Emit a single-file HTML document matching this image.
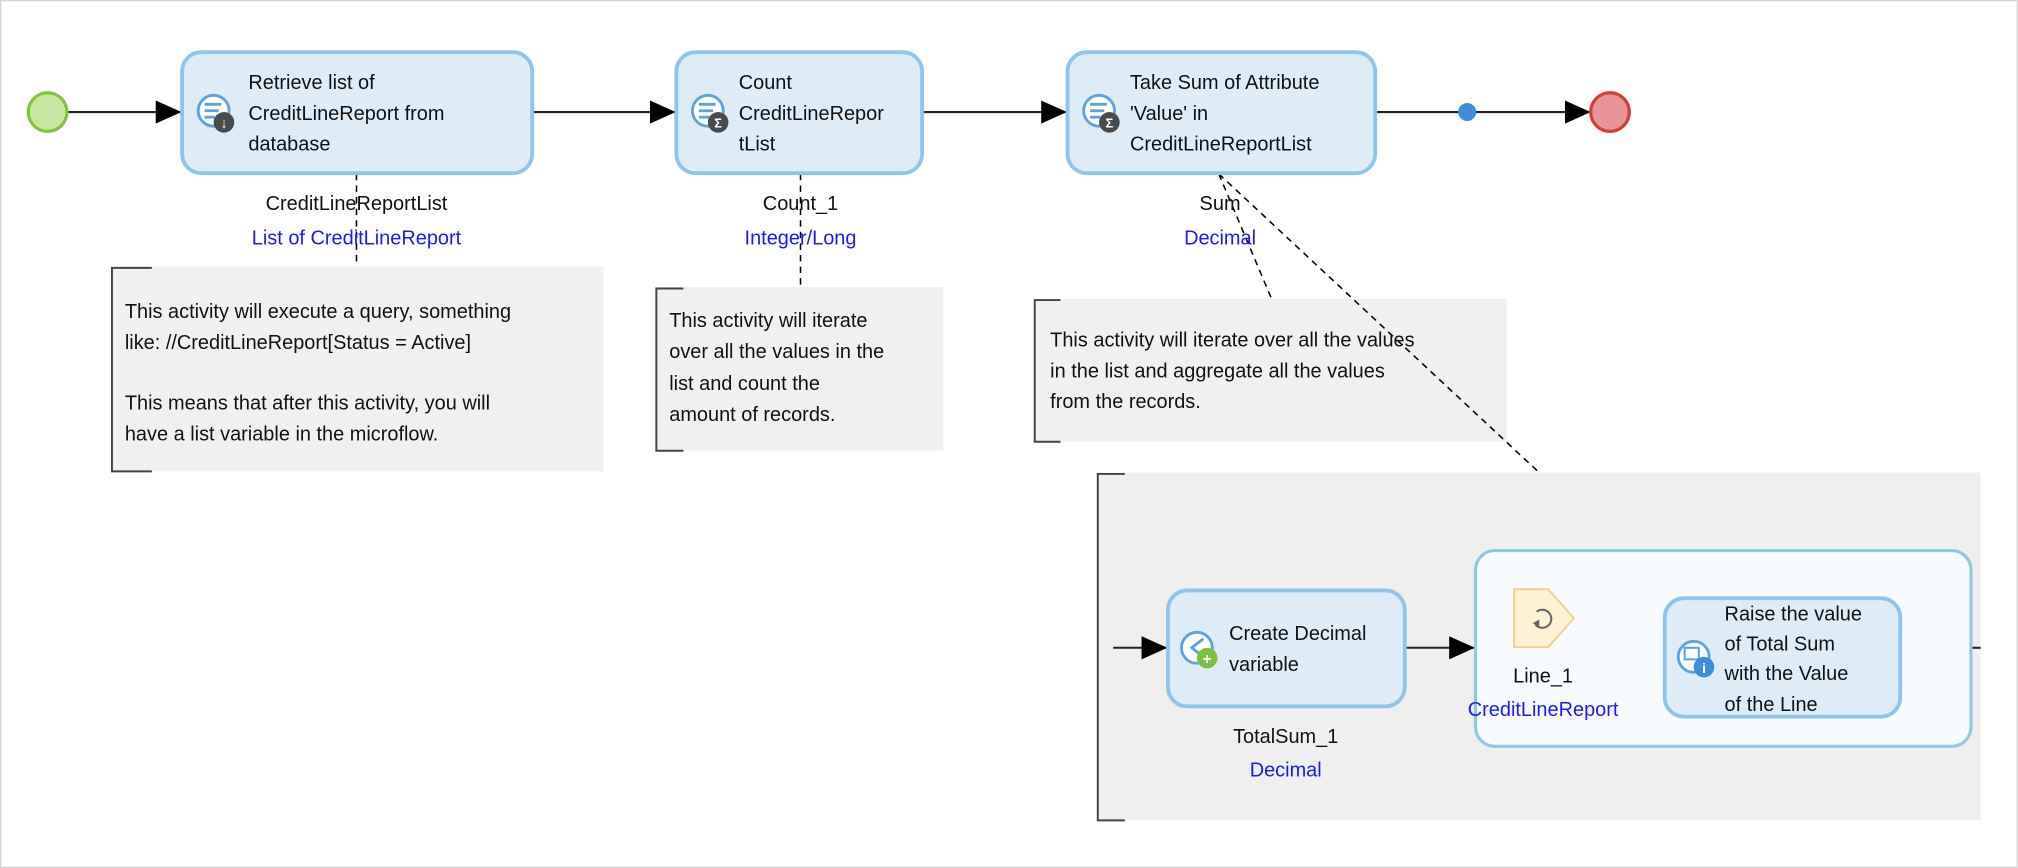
<!DOCTYPE html>
<html><head><meta charset="utf-8"><style>
html,body{margin:0;padding:0;background:#fff;}
svg{display:block;}
text{font-family:"Liberation Sans",sans-serif;font-size:15.5px;fill:#111;}
.b{fill:#1a1aff;}
</style></head><body>
<svg width="2018" height="868" viewBox="0 0 1568 674" preserveAspectRatio="none" xmlns="http://www.w3.org/2000/svg">
<defs>
<marker id="ar" markerWidth="20" markerHeight="20" refX="20" refY="10" orient="auto" markerUnits="userSpaceOnUse" viewBox="0 0 20 20">
<path d="M0,1 L20,10 L0,19 z" fill="#000"/></marker>
<g id="ic">
<circle cx="0" cy="0" r="12" fill="#fff" stroke="#5aa3e0" stroke-width="2.2"/>
<line x1="-7" y1="-5" x2="6" y2="-5" stroke="#5aa3e0" stroke-width="2.2"/>
<line x1="-7" y1="0" x2="4" y2="0" stroke="#5aa3e0" stroke-width="2.2"/>
<line x1="-7" y1="5" x2="1" y2="5" stroke="#5aa3e0" stroke-width="2.2"/>
</g>
</defs>
<rect x="0.5" y="0.5" width="1567" height="673" fill="#fff" stroke="#d4d4d4"/>

<!-- annotations -->
<rect x="86" y="207" width="383" height="159" fill="#f0f0f0"/>
<path d="M118,208 H87 V366 H118" fill="none" stroke="#444" stroke-width="1.5"/>
<rect x="509" y="223" width="224" height="127" fill="#f0f0f0"/>
<path d="M531,224 H510 V350 H531" fill="none" stroke="#444" stroke-width="1.5"/>
<rect x="803" y="232" width="368" height="111" fill="#f0f0f0"/>
<path d="M824,233 H804 V343 H824" fill="none" stroke="#444" stroke-width="1.5"/>
<rect x="852" y="367" width="687" height="270" fill="#efefef"/>
<path d="M874,368 H853 V637 H874" fill="none" stroke="#444" stroke-width="1.5"/>

<!-- dashed -->
<g stroke="#000" stroke-width="1.2" stroke-dasharray="5,4" fill="none">
<line x1="277" y1="135" x2="277" y2="207"/>
<line x1="622" y1="135" x2="622" y2="223"/>
<line x1="947" y1="135" x2="988" y2="232"/>
<line x1="947" y1="135" x2="1196" y2="367"/>
</g>

<!-- flows -->
<g stroke="#222" stroke-width="1.6">
<line x1="53" y1="87" x2="141" y2="87" marker-end="url(#ar)"/>
<line x1="414" y1="87" x2="525" y2="87" marker-end="url(#ar)"/>
<line x1="717" y1="87" x2="829" y2="87" marker-end="url(#ar)"/>
<line x1="1069" y1="87" x2="1236" y2="87" marker-end="url(#ar)"/>
<line x1="865" y1="503" x2="907" y2="503" marker-end="url(#ar)"/>
<line x1="1092" y1="503" x2="1146" y2="503" marker-end="url(#ar)"/>
<line x1="1532" y1="503" x2="1539" y2="503"/>
</g>
<circle cx="37" cy="87" r="15" fill="#c7e6a0" stroke="#80c342" stroke-width="2.5"/>
<circle cx="1140" cy="87" r="7" fill="#3b8fd9"/>
<circle cx="1251" cy="87" r="15" fill="#e89595" stroke="#d83a3a" stroke-width="2.5"/>

<!-- boxes -->
<g fill="#ddecf7" stroke="#8fc5ea" stroke-width="3">
<rect x="141.5" y="40.5" width="272" height="94" rx="15"/>
<rect x="525.5" y="40.5" width="191" height="94" rx="15"/>
<rect x="829.5" y="40.5" width="239" height="94" rx="15"/>
<rect x="907.5" y="458.5" width="184" height="90" rx="15"/>
</g>
<rect x="1146.5" y="427.5" width="385" height="152" rx="15" fill="#f8fbfd" stroke="#8fcae0" stroke-width="2.5"/>
<rect x="1293.5" y="464.5" width="183" height="92" rx="15" fill="#ddecf7" stroke="#8fc5ea" stroke-width="3"/>

<!-- icons -->
<use href="#ic" x="166" y="86"/><circle cx="174" cy="95" r="8" fill="#4a4a4a"/><text x="174" y="99.5" text-anchor="middle" style="font-size:11px;fill:#fff;font-weight:bold">↓</text>
<use href="#ic" x="550" y="86"/><circle cx="558" cy="95" r="8" fill="#4a4a4a"/><text x="558" y="99" text-anchor="middle" style="font-size:10px;fill:#fff;font-weight:bold">Σ</text>
<use href="#ic" x="854" y="86"/><circle cx="862" cy="95" r="8" fill="#4a4a4a"/><text x="862" y="99" text-anchor="middle" style="font-size:10px;fill:#fff;font-weight:bold">Σ</text>
<circle cx="930" cy="503" r="12" fill="#fff" stroke="#5aa3e0" stroke-width="2.2"/>
<path d="M935,496 L926,503 L935,510" fill="none" stroke="#5aa3e0" stroke-width="2.2"/>
<circle cx="938" cy="511" r="8" fill="#7cc13e"/><text x="938" y="515.5" text-anchor="middle" style="font-size:12px;fill:#fff;font-weight:bold">+</text>
<circle cx="1316" cy="510" r="12" fill="#fff" stroke="#5aa3e0" stroke-width="2.2"/>
<rect x="1309" y="503" width="11" height="9" fill="none" stroke="#5aa3e0" stroke-width="1.6"/>
<circle cx="1324" cy="518" r="8" fill="#3b8fd9"/><text x="1324" y="522.5" text-anchor="middle" style="font-size:11px;fill:#fff;font-weight:bold">i</text>
<path d="M1176.5,457.5 H1203 L1223,480 L1203,502.5 H1176.5 Z" fill="#fdf3d3" stroke="#f5cd8a" stroke-width="1.5"/>
<path d="M1194,475 A7,7 0 1 1 1193,485" fill="none" stroke="#666" stroke-width="1.6"/>
<path d="M1191,484 L1196,481 L1196,487 Z" fill="#666"/>

<!-- box text -->
<text x="193" y="69">Retrieve list of</text>
<text x="193" y="93">CreditLineReport from</text>
<text x="193" y="117">database</text>
<text x="574" y="69">Count</text>
<text x="574" y="93">CreditLineRepor</text>
<text x="574" y="117">tList</text>
<text x="878" y="69">Take Sum of Attribute</text>
<text x="878" y="93">'Value' in</text>
<text x="878" y="117">CreditLineReportList</text>
<text x="955" y="497">Create Decimal</text>
<text x="955" y="521">variable</text>
<text x="1340" y="482">Raise the value</text>
<text x="1340" y="505">of Total Sum</text>
<text x="1340" y="528">with the Value</text>
<text x="1340" y="552">of the Line</text>

<!-- labels -->
<g text-anchor="middle">
<text x="277" y="163">CreditLineReportList</text>
<text x="277" y="190" class="b">List of CreditLineReport</text>
<text x="622" y="163">Count_1</text>
<text x="622" y="190" class="b">Integer/Long</text>
<text x="948" y="163">Sum</text>
<text x="948" y="190" class="b">Decimal</text>
<text x="999" y="577">TotalSum_1</text>
<text x="999" y="603" class="b">Decimal</text>
<text x="1199" y="530">Line_1</text>
<text x="1199" y="556" class="b">CreditLineReport</text>
</g>

<!-- annotation text -->
<text x="97" y="247">This activity will execute a query, something</text>
<text x="97" y="271">like: //CreditLineReport[Status = Active]</text>
<text x="97" y="318">This means that after this activity, you will</text>
<text x="97" y="342">have a list variable in the microflow.</text>
<text x="520" y="254">This activity will iterate</text>
<text x="520" y="278">over all the values in the</text>
<text x="520" y="303">list and count the</text>
<text x="520" y="327">amount of records.</text>
<text x="816" y="269">This activity will iterate over all the values</text>
<text x="816" y="293">in the list and aggregate all the values</text>
<text x="816" y="317">from the records.</text>
</svg>
</body></html>
